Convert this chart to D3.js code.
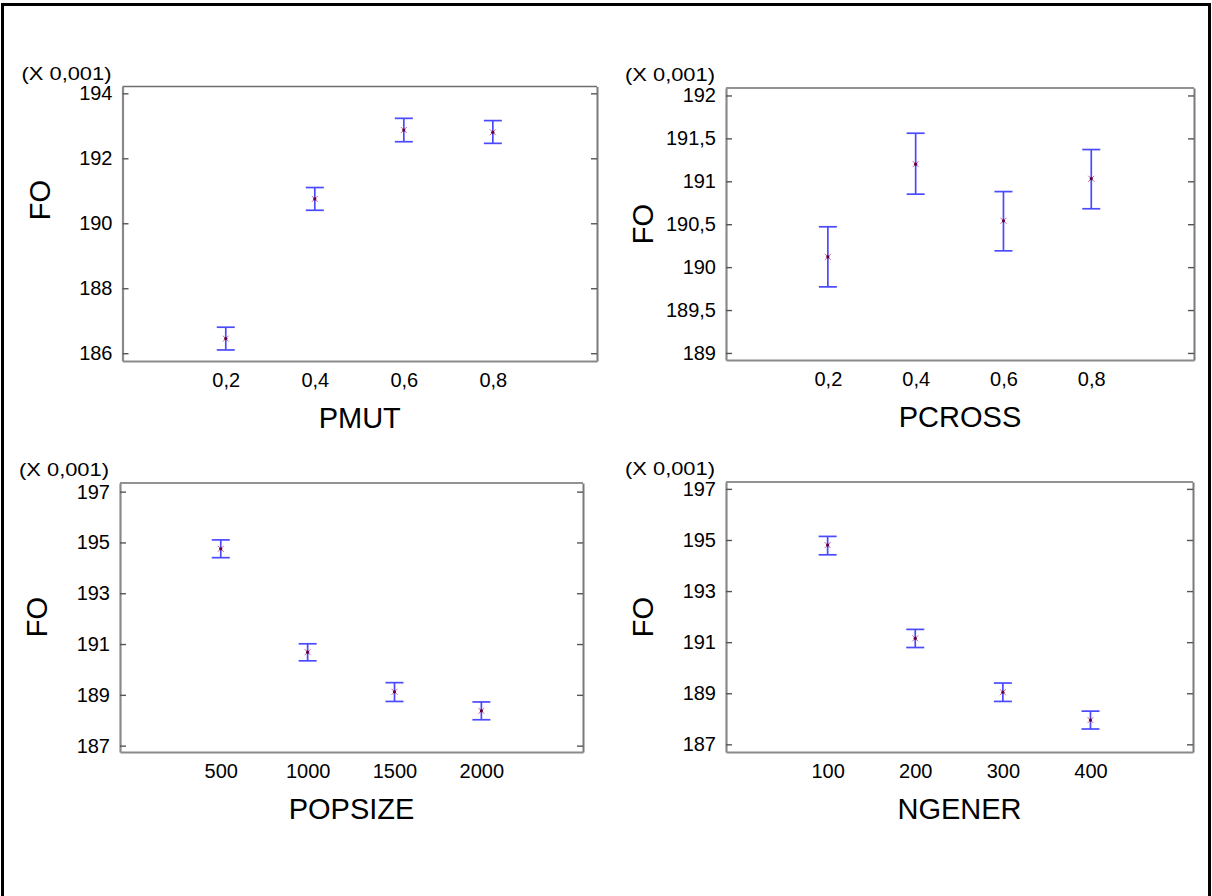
<!DOCTYPE html>
<html><head><meta charset="utf-8">
<script src="https://cdn.jsdelivr.net/npm/d3@7"></script>
<style>
body{margin:0;background:#fff}
svg{display:block}
text{font-family:Arial,"Liberation Sans",sans-serif;fill:#000}
</style>
</head><body>
<svg id="c" width="1212" height="896"></svg>
<script>
// ---- data ----
const pmutLevels  = [0.2, 0.4, 0.6, 0.8];
const pmutMeans   = [186.45, 190.75, 192.87, 192.80];
const pmutLow     = [186.10, 190.40, 192.51, 192.46];
const pmutHigh    = [186.80, 191.10, 193.23, 193.16];
const pmutTicks   = [186, 188, 190, 192, 194];

const pcrossLevels = [0.2, 0.4, 0.6, 0.8];
const pcrossMeans  = [190.12, 191.20, 190.54, 191.03];
const pcrossLow    = [189.77, 190.85, 190.19, 190.68];
const pcrossHigh   = [190.47, 191.56, 190.88, 191.37];
const pcrossTicks  = [189, 189.5, 190, 190.5, 191, 191.5, 192];

const popsizeLevels = [500, 1000, 1500, 2000];
const popsizeMeans  = [194.75, 190.68, 189.12, 188.37];
const popsizeLow    = [194.40, 190.34, 188.74, 188.02];
const popsizeHigh   = [195.10, 191.01, 189.48, 188.72];
const popsizeTicks  = [187, 189, 191, 193, 195, 197];

const ngenerLevels = [100, 200, 300, 400];
const ngenerMeans  = [194.80, 191.15, 189.04, 187.95];
const ngenerLow    = [194.42, 190.79, 188.68, 187.60];
const ngenerHigh   = [195.14, 191.50, 189.40, 188.30];
const ngenerTicks  = [187, 189, 191, 193, 195, 197];

const yTitle = "FO";
const scaleNote = "(X 0,001)";

// ---- layout ----
const panels = [
  {name:"PMUT",    lv:pmutLevels,    m:pmutMeans,    lo:pmutLow,    hi:pmutHigh,    ticks:pmutTicks,
   box:{l:122.5,r:597,t:86.5,b:361}, yd:[185.76,194.21], fy:200},
  {name:"PCROSS",  lv:pcrossLevels,  m:pcrossMeans,  lo:pcrossLow,  hi:pcrossHigh,  ticks:pcrossTicks,
   box:{l:726,r:1194,t:88,b:360},   yd:[188.918,192.087], fy:224},
  {name:"POPSIZE", lv:popsizeLevels, m:popsizeMeans, lo:popsizeLow, hi:popsizeHigh, ticks:popsizeTicks,
   box:{l:120,r:583,t:483,b:752},   yd:[186.75,197.34], fy:617},
  {name:"NGENER",  lv:ngenerLevels,  m:ngenerMeans,  lo:ngenerLow,  hi:ngenerHigh,  ticks:ngenerTicks,
   box:{l:726,r:1193,t:482,b:752},  yd:[186.70,197.27], fy:617}
];

const svg = d3.select("#c");
svg.append("rect").attr("width",1212).attr("height",896).attr("fill","#fff");

// outer border
svg.append("rect").attr("x",2.5).attr("y",4.5).attr("width",1207).attr("height",900)
  .attr("fill","none").attr("stroke","#000").attr("stroke-width",3);

const fmt = v => String(v).replace(".", ",");

panels.forEach(p => {
  const B = p.box;
  const step = p.lv[1]-p.lv[0];
  const x = d3.scaleLinear()
    .domain([p.lv[0]-1.16*step, p.lv[p.lv.length-1]+1.17*step])
    .range([B.l, B.r]);
  const y = d3.scaleLinear().domain(p.yd).range([B.b, B.t]);
  const g = svg.append("g");

  // top frame
  g.append("line").attr("x1",B.l).attr("x2",B.r).attr("y1",B.t).attr("y2",B.t)
    .attr("stroke","#6e6e6e").attr("stroke-width",1.6);
  // right axis (inward ticks)
  const ra = g.append("g").attr("transform",`translate(${B.r},0)`)
    .call(d3.axisRight(y).tickValues(p.ticks).tickSize(-6).tickSizeOuter(0).tickFormat(""));
  ra.select(".domain").attr("stroke","#7a7a7a").attr("stroke-width",2);
  ra.selectAll(".tick line").attr("stroke","#555").attr("stroke-width",1.4);

  // left axis
  const la = g.append("g").attr("transform",`translate(${B.l},0)`)
    .call(d3.axisLeft(y).tickValues(p.ticks).tickSize(-6).tickSizeOuter(0).tickPadding(10).tickFormat(fmt));
  la.select(".domain").attr("stroke","#8a8a8a").attr("stroke-width",2.2);
  la.selectAll(".tick line").attr("stroke","#555").attr("stroke-width",1.4);
  la.selectAll(".tick text").attr("font-size",20).attr("font-family","Arial, 'Liberation Sans', sans-serif").attr("fill","#000");

  // bottom axis
  const ba = g.append("g").attr("transform",`translate(0,${B.b})`)
    .call(d3.axisBottom(x).tickValues(p.lv).tickSize(0).tickSizeOuter(0).tickPadding(12).tickFormat(fmt));
  ba.select(".domain").attr("stroke","#8a8a8a").attr("stroke-width",2.2);
  ba.selectAll(".tick text").attr("font-size",20).attr("font-family","Arial, 'Liberation Sans', sans-serif").attr("fill","#000");

  // scale note
  g.append("text").attr("x",B.l-101).attr("y",B.t-7)
    .attr("font-size",19).attr("textLength",90).attr("lengthAdjust","spacingAndGlyphs").text(scaleNote);

  // axis titles
  g.append("text").attr("x",(B.l+B.r)/2).attr("y",B.b+67).attr("text-anchor","middle")
    .attr("font-size",29).text(p.name);
  g.append("text").attr("transform",`translate(${B.l-73},${p.fy}) rotate(-90)`)
    .attr("text-anchor","middle").attr("font-size",29).text(yTitle);

  // error bars
  const cap = 9;
  p.lv.forEach((v,i) => {
    const cx = x(v);
    const eg = g.append("g").attr("stroke","#4a4aff").attr("stroke-width",1.7).attr("fill","none");
    eg.append("line").attr("x1",cx).attr("x2",cx).attr("y1",y(p.lo[i])).attr("y2",y(p.hi[i]));
    eg.append("line").attr("x1",cx-cap).attr("x2",cx+cap).attr("y1",y(p.lo[i])).attr("y2",y(p.lo[i]));
    eg.append("line").attr("x1",cx-cap).attr("x2",cx+cap).attr("y1",y(p.hi[i])).attr("y2",y(p.hi[i]));
    const cy = y(p.m[i]);
    const mk = g.append("g").attr("stroke","#d24a7a").attr("stroke-width",1).attr("opacity",0.85);
    mk.append("line").attr("x1",cx-3).attr("x2",cx+3).attr("y1",cy-3).attr("y2",cy+3);
    mk.append("line").attr("x1",cx-3).attr("x2",cx+3).attr("y1",cy+3).attr("y2",cy-3);
    g.append("circle").attr("cx",cx).attr("cy",cy).attr("r",1.6).attr("fill","#5a0040");
  });
});
</script>
</body></html>
